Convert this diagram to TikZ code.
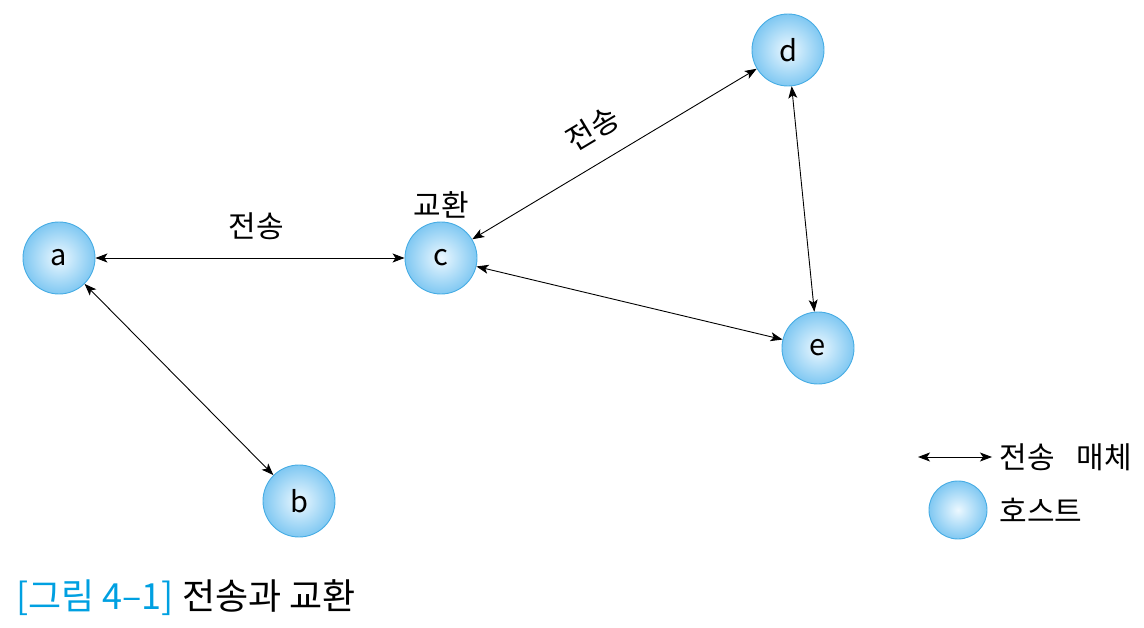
\documentclass[tikz,border=0pt]{standalone}
\usepackage{fontspec}
\setmainfont{Noto Sans CJK KR}
\usetikzlibrary{arrows.meta,positioning}
\definecolor{hostedge}{RGB}{70,172,228}
\definecolor{hostin}{RGB}{236,248,255}
\definecolor{hostout}{RGB}{128,200,242}
\definecolor{capblue}{RGB}{0,160,225}

\begin{document}
\begin{tikzpicture}[x=1pt, y=-1pt,
  host/.style={circle, draw=hostedge, line width=0.9pt, inner color=hostin, outer color=hostout, minimum size=72pt, inner sep=0pt, font=\fontsize{29}{29}\selectfont},
  link/.style={{Stealth[length=12pt,width=9pt,inset=3pt]}-{Stealth[length=12pt,width=9pt,inset=3pt]}, line width=0.9pt, black},
  lbl/.style={font=\fontsize{30}{30}\selectfont}
]
  \useasboundingbox (0,0) rectangle (1144,628);
  % hosts
  \node[host] (a) at (59,258) {a};
  \node[host] (b) at (299,501) {b};
  \node[host] (c) at (441,258) {c};
  \node[host] (d) at (788,50) {d};
  \node[host] (e) at (818,348) {e};
  % links
  \draw[link] (a) -- node[lbl, above=14pt, xshift=6pt] {전송} (c);
  \draw[link] (a) -- (b);
  \draw[link] (c) -- node[lbl, above=16pt, sloped, xshift=-6pt] {전송} (d);
  \draw[link] (c) -- (e);
  \draw[link] (d) -- (e);
  \node[lbl, above=0pt of c] (sw) {교환};
  % legend
  \coordinate (l1) at (918,457);
  \coordinate (l2) at (992,457);
  \draw[link] (l1) -- (l2);
  \node[lbl, anchor=west] (lt1) at (996,457) {전송\hspace{22pt}매체};
  \node[host, minimum size=58pt] (lh) at (958,510) {};
  \node[lbl, anchor=west] (lt2) at (996,510) {호스트};
  % caption
  \node[anchor=west, font=\fontsize{36}{36}\selectfont, inner sep=0pt] (cap) at (16,598) {\textcolor{capblue}{[그림 4–1]} 전송과 교환};
\end{tikzpicture}
\end{document}
